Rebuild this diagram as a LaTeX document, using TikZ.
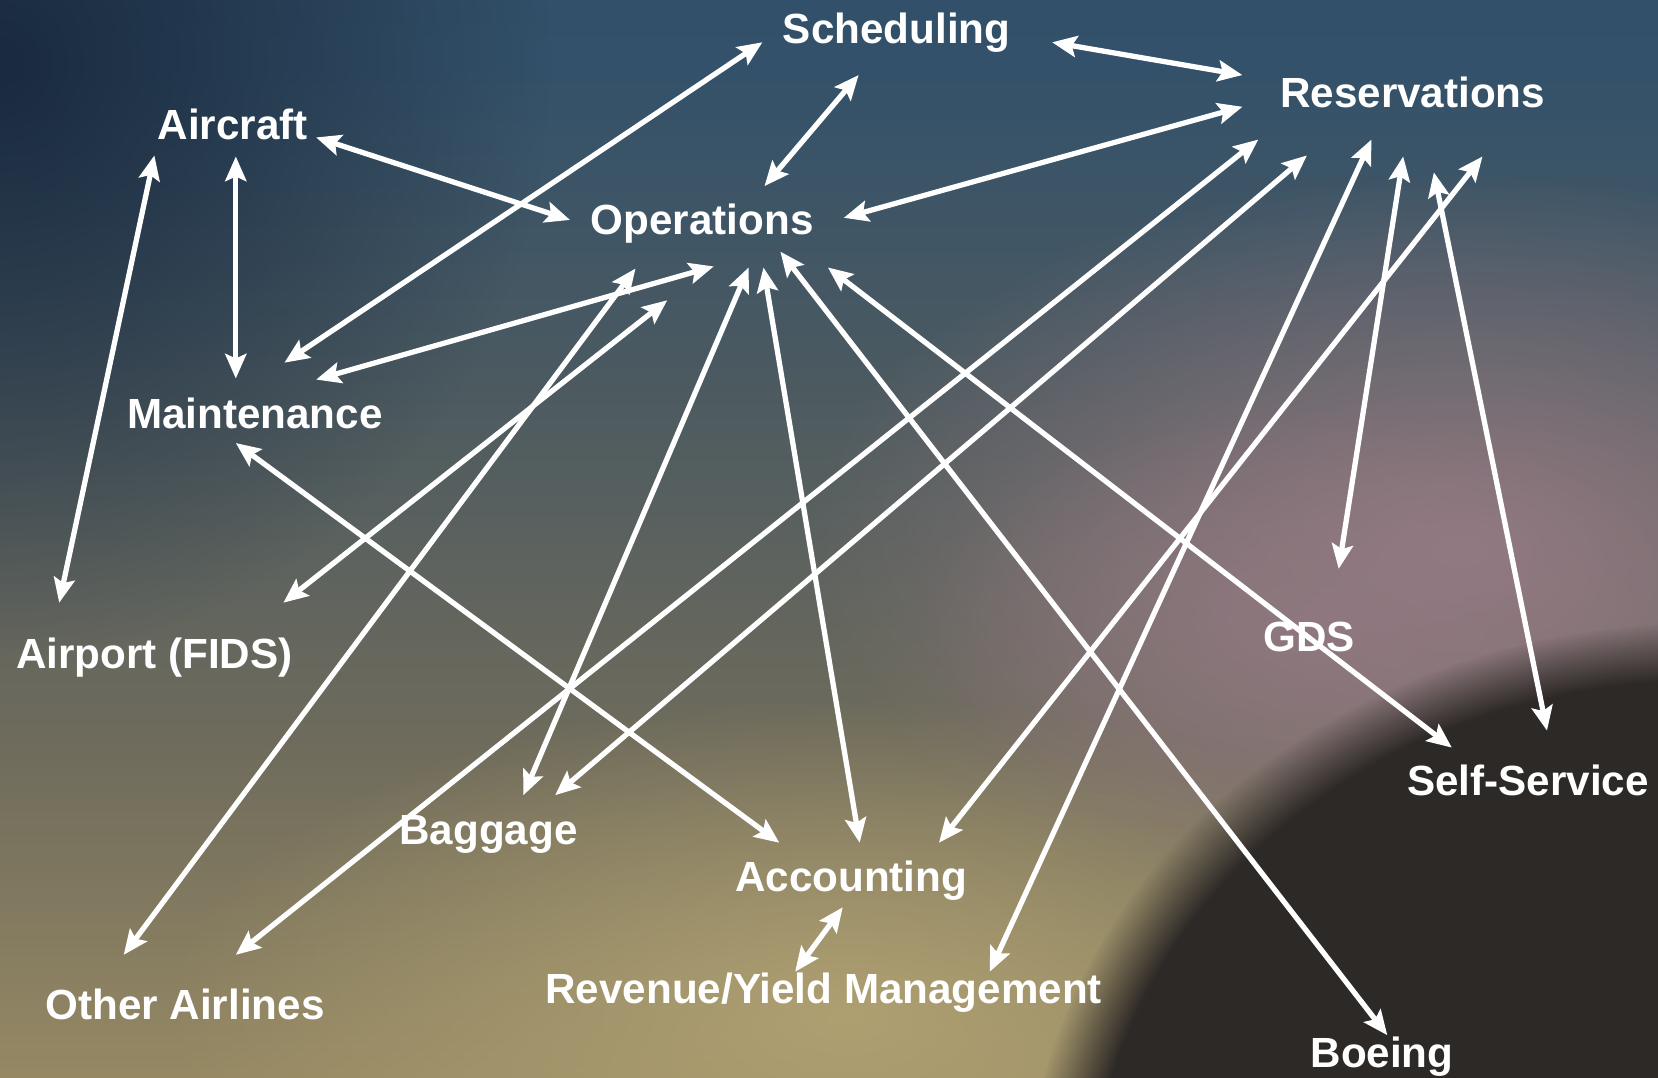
\documentclass[tikz,border=0pt]{standalone}
\usepackage{fontspec}
\setmainfont{Liberation Sans}
\usetikzlibrary{arrows.meta,fadings}

\definecolor{sandLow}{HTML}{A08E63}
\definecolor{sandMid}{HTML}{A29266}
\definecolor{oliveGray}{HTML}{706C5C}
\definecolor{slateMid}{HTML}{4C5A60}
\definecolor{skyMid}{HTML}{33516A}
\definecolor{skyHigh}{HTML}{2C4C63}
\definecolor{skyTop}{HTML}{284258}
\definecolor{nightCorner}{HTML}{17263A}
\definecolor{duskPink}{HTML}{937A82}
\definecolor{planetDark}{HTML}{2D2927}
\definecolor{sandLight}{HTML}{B2A373}

\pgfdeclareverticalshading{skyfall}{100bp}{color(0bp)=(sandLow); color(20bp)=(sandMid); color(40bp)=(oliveGray); color(57bp)=(slateMid); color(72bp)=(skyMid); color(90bp)=(skyHigh); color(100bp)=(skyTop)}
\tikzfading[name=softglow, inner color=transparent!0, outer color=transparent!100]

\tikzset{
	box/.style={text=white, font=\bfseries\fontsize{12}{14}\selectfont, text height=0.72em, text depth=0pt, inner sep=0pt},
	link/.style={draw=white, line width=1.5pt, <->, >={Stealth[length=7pt, width=6pt, inset=1.3pt]}},
}

\begin{document}
\begin{tikzpicture}[x=0.1057mm, y=-0.1057mm]
			%%%%% START %%%%%
			
			\useasboundingbox (0, 0) rectangle (1568, 1019);
			\shade[shading=skyfall] (0, 0) rectangle (1568, 1019);
			
			\begin{scope}
				\clip (0, 0) rectangle (1568, 1019);
				\fill[nightCorner, opacity=0.9, path fading=softglow] (0, 60) ellipse (520 and 560);
				\fill[sandLight, opacity=0.9, path fading=softglow] (800, 960) ellipse (650 and 300);
				\fill[duskPink, path fading=softglow] (1380, 520) ellipse (620 and 360);
				\fill[duskPink, opacity=0.7, path fading=softglow] (1240, 590) ellipse (380 and 210);
				\fill[planetDark, path fading=circle with fuzzy edge 10 percent] (1610, 1150) ellipse (640 and 560);
			\end{scope}
			
			\node[box] (sch) at (848, 29) {Scheduling};
			\node[box] (res) at (1336, 90) {Reservations};
			\node[box] (air) at (220, 120) {Aircraft};
			\node[box] (ops) at (664, 210) {Operations};
			\node[box] (mnt) at (241, 393) {Maintenance};
			\node[box] (apt) at (146, 620) {Airport (FIDS)};
			\node[box] (gds) at (1238, 604) {GDS};
			\node[box] (ssv) at (1445, 740) {Self-Service};
			\node[box] (bag) at (462, 787) {Baggage};
			\node[box] (acc) at (805, 831) {Accounting};
			\node[box] (rev) at (779, 937) {Revenue/Yield Management};
			\node[box] (oth) at (175, 952) {Other Airlines};
			\node[box] (boe) at (1307, 998) {Boeing};
			
			\draw[link] ([shift={(147, 11)}]sch.center) -- ([shift={(-161, -19)}]res.center);
			\draw[link] ([shift={(-36, 42)}]sch.center) -- ([shift={(59, -34)}]ops.center);
			\draw[link] ([shift={(-127, 11)}]sch.center) -- ([shift={(28, -50)}]mnt.center);
			
			\draw[link] ([shift={(79, 10)}]air.center) -- ([shift={(-125, -2)}]ops.center);
			\draw[link] ([shift={(3, 28)}]air.center) -- ([shift={(-18, -35)}]mnt.center);
			\draw[link] ([shift={(-74, 27)}]air.center) -- ([shift={(-90, -50)}]apt.center);
			
			\draw[link] ([shift={(-161, 11)}]res.center) -- ([shift={(134, -4)}]ops.center);
			\draw[link] ([shift={(11, 42)}]ops.center) -- ([shift={(58, -34)}]mnt.center);
			\draw[link] ([shift={(-63, 44)}]ops.center) -- ([shift={(-58, -49)}]oth.center);
			\draw[link] ([shift={(-33, 74)}]ops.center) -- ([shift={(122, -50)}]apt.center);
			\draw[link] ([shift={(44, 43)}]ops.center) -- ([shift={(33, -35)}]bag.center);
			\draw[link] ([shift={(58, 43)}]ops.center) -- ([shift={(8, -34)}]acc.center);
			\draw[link] ([shift={(74, 28)}]ops.center) -- ([shift={(5, -19)}]boe.center);
			\draw[link] ([shift={(119, 43)}]ops.center) -- ([shift={(-72, -33)}]ssv.center);
			
			\draw[link] ([shift={(-18, 26)}]mnt.center) -- ([shift={(-68, -34)}]acc.center);
			
			\draw[link] ([shift={(-146, 42)}]res.center) -- ([shift={(48, -49)}]oth.center);
			\draw[link] ([shift={(-100, 57)}]res.center) -- ([shift={(63, -35)}]bag.center);
			\draw[link] ([shift={(-39, 42)}]res.center) -- ([shift={(157, -18)}]rev.center);
			\draw[link] ([shift={(-9, 58)}]res.center) -- ([shift={(28, -66)}]gds.center);
			\draw[link] ([shift={(66, 58)}]res.center) -- ([shift={(83, -34)}]acc.center);
			\draw[link] ([shift={(20, 73)}]res.center) -- ([shift={(18, -49)}]ssv.center);
			
			\draw[link] ([shift={(-8, 27)}]acc.center) -- ([shift={(-27, -18)}]rev.center);
			
			%%%%% END %%%%%
\end{tikzpicture}
\end{document}
